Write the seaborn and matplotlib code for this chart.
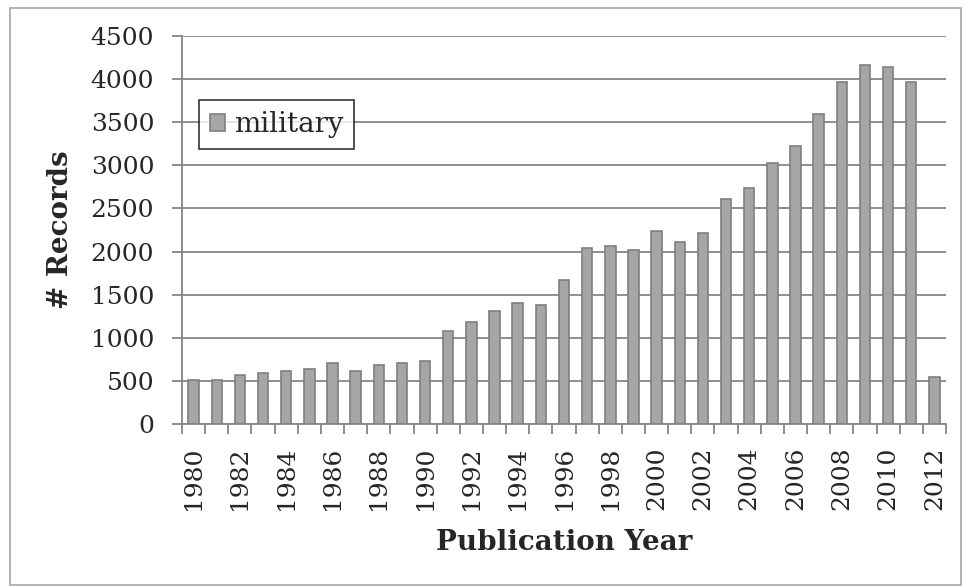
import numpy as np
import pandas as pd
import seaborn as sns
import matplotlib.pyplot as plt
from matplotlib.patches import Rectangle

# values
years = list(range(1980, 2013))
records = [505, 505, 570, 595, 615, 640, 705, 615, 685, 705, 730,
           1080, 1185, 1315, 1400, 1380, 1670, 2040, 2060, 2020, 2235,
           2110, 2210, 2605, 2740, 3030, 3220, 3595, 3970, 4165, 4145,
           3970, 545]
series_name = 'military'

sns.set_theme(style='white')
plt.rcParams['font.family'] = ['DejaVu Serif']

df = pd.DataFrame({'year': [str(y) for y in years], 'records': records})

fig = plt.figure(figsize=(9.63, 5.86), dpi=100)
ax = fig.add_axes([182 / 963, 1 - 424 / 586, (946 - 182) / 963, (424 - 36) / 586])

sns.barplot(data=df, x='year', y='records', color='#a6a6a6', saturation=1,
            width=0.45, edgecolor='#7f7f7f', linewidth=1.2, label=series_name,
            ax=ax, zorder=3)

ax.set_ylim(0, 4500)
ax.set_xlim(-0.5, len(years) - 0.5)
ax.set_yticks(np.arange(0, 4501, 500))
ax.yaxis.grid(True, color='#868686', linewidth=1.3, zorder=0)
ax.xaxis.grid(False)
ax.set_axisbelow(True)

# labels every second year, ticks on category boundaries
ax.set_xticks(range(0, len(years), 2), [str(y) for y in years[::2]])
ax.set_xticks(np.arange(-0.5, len(years), 1), minor=True)
ax.tick_params(axis='x', which='major', length=0, pad=16, labelsize=18,
               rotation=90)
ax.tick_params(axis='x', which='minor', length=7, width=1.3, color='#868686',
               direction='out', bottom=True)
ax.tick_params(axis='y', length=7, width=1.3, color='#868686', pad=13,
               labelsize=18, left=True)

for side in ['top', 'right']:
    ax.spines[side].set_visible(False)
for side in ['left', 'bottom']:
    ax.spines[side].set_color('#868686')
    ax.spines[side].set_linewidth(1.3)

ax.set_xlabel('Publication Year', fontsize=20, fontweight='bold', labelpad=14)
ax.set_ylabel('# Records', fontsize=20, fontweight='bold', labelpad=12)

leg = ax.legend(loc='upper left', bbox_to_anchor=(199 / 963, 1 - 100 / 586),
                bbox_transform=fig.transFigure, frameon=True, fancybox=False,
                fontsize=20, handlelength=0.55, handleheight=0.55,
                handletextpad=0.3, borderpad=0.4, borderaxespad=0)
leg.get_frame().set_edgecolor('black')
leg.get_frame().set_linewidth(1.2)

# light outer frame around the whole chart
fig.patches.append(Rectangle((10 / 963, 1 / 586), 951 / 963, 577 / 586,
                             transform=fig.transFigure, fill=False,
                             edgecolor='#a6a6a6', linewidth=1.2))

fig.savefig('out.png', dpi=100)
